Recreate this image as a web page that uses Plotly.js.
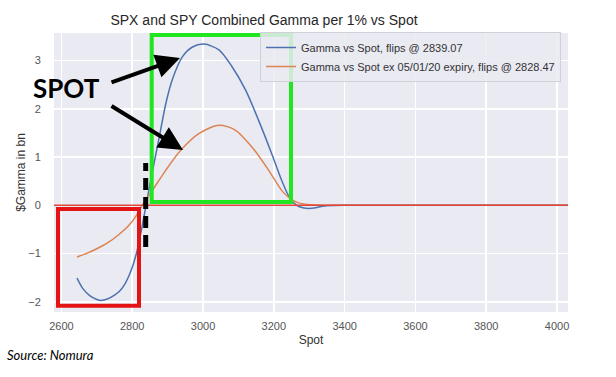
<!DOCTYPE html>
<html>
<head>
<meta charset="utf-8">
<script src="https://cdn.plot.ly/plotly-3.0.1.min.js"></script>
<style>html,body{margin:0;padding:0;background:#fff;}#chart{width:616px;height:377px;}</style>
</head>
<body>
<div id="chart"></div>
<script>
// Data
const spotBlue = [2644,2660,2680,2700,2712,2730,2750,2764,2780,2792,2802,2811,2825,2839,2857,2876,2895,2914,2942,2970,3003,3045,3082,3120,3157,3194,3222,3246,3265,3282,3300,3318,3338,3365,3400,3600,3800,4030];
const gammaBlue = [-1.51,-1.72,-1.87,-1.95,-1.97,-1.94,-1.86,-1.78,-1.62,-1.44,-1.24,-1.02,-0.55,0.00,0.70,1.40,2.11,2.62,3.08,3.28,3.34,3.22,2.87,2.39,1.76,1.07,0.52,0.14,0.00,-0.05,-0.065,-0.05,-0.02,-0.005,0,0,0,0];

const spotOrange = [2644,2670,2700,2730,2760,2790,2811,2828,2857,2895,2937,2989,3045,3091,3138,3185,3222,3246,3270,3297,3330,3400,3600,3800,4030];
const gammaOrange = [-1.07,-1.00,-0.90,-0.78,-0.62,-0.42,-0.22,0.00,0.31,0.73,1.14,1.49,1.66,1.56,1.21,0.73,0.31,0.14,0.05,0.015,0.003,0,0,0,0];

const seriesNames = ["Gamma vs Spot, flips @ 2839.07", "Gamma vs Spot ex 05/01/20 expiry, flips @ 2828.47"];
const xTicks = [2600,2800,3000,3200,3400,3600,3800,4000];
const yTicks = [-2,-1,0,1,2,3];
const yTickText = ['\u22122','\u22121','0','1','2','3'];

const traces = [
  {x: spotBlue, y: gammaBlue, name: seriesNames[0], type: 'scatter', mode: 'lines',
   line: {color: '#4C72B0', width: 1.5, shape: 'spline', smoothing: 0.8}},
  {x: spotOrange, y: gammaOrange, name: seriesNames[1], type: 'scatter', mode: 'lines',
   line: {color: '#DD8452', width: 1.5, shape: 'spline', smoothing: 0.8}}
];

const px = v => (v - 54) / 514;
const py = v => (312 - v) / 279;

const layout = {
  width: 616, height: 377,
  margin: {l: 54, r: 48, t: 33, b: 65, pad: 0},
  paper_bgcolor: '#ffffff',
  plot_bgcolor: '#EAEAF2',
  font: {family: 'Liberation Sans, Arial, sans-serif', color: '#444'},
  title: {text: 'SPX and SPY Combined Gamma per 1% vs Spot', font: {size: 14, color: '#262626'},
          xref: 'container', x: 264/616, xanchor: 'center', yref: 'container', y: 1 - 20.5/377, yanchor: 'middle'},
  xaxis: {range: [2579, 4031], tickvals: xTicks, showgrid: true, gridcolor: '#ffffff', gridwidth: 1.5,
          zeroline: false, showline: false, ticks: 'outside', ticklen: 4, tickcolor: 'rgba(0,0,0,0)',
          tickfont: {size: 11, color: '#555'},
          title: {text: 'Spot', font: {size: 12, color: '#333'}, standoff: 4}},
  yaxis: {range: [-2.21, 3.57], tickvals: yTicks, ticktext: yTickText, showgrid: true, gridcolor: '#ffffff', gridwidth: 1.5,
          zeroline: false, showline: false, ticks: 'outside', ticklen: 10, tickcolor: 'rgba(0,0,0,0)',
          tickfont: {size: 11, color: '#555'},
          title: {text: '$Gamma in bn', font: {size: 12, color: '#333'}, standoff: 0}},
  showlegend: true,
  legend: {x: px(260), y: py(32), xanchor: 'left', yanchor: 'top', bgcolor: 'rgba(234,234,242,0.85)',
           bordercolor: '#d0d0d8', borderwidth: 1, font: {size: 11, color: '#333'}, tracegroupgap: 0},
  shapes: [
    {type: 'line', xref: 'paper', x0: 0, x1: 1, yref: 'y', y0: 0, y1: 0, line: {color: '#e0463c', width: 1.6}},
    {type: 'rect', xref: 'paper', yref: 'paper', x0: px(151.7), x1: px(291), y0: py(202), y1: py(35),
     line: {color: '#1fe61f', width: 4}},
    {type: 'rect', xref: 'paper', yref: 'paper', x0: px(58), x1: px(139), y0: py(305.7), y1: py(209),
     line: {color: '#e41414', width: 4}},
    {type: 'line', xref: 'paper', yref: 'paper', x0: px(145.7), x1: px(145.7), y0: py(247), y1: py(163),
     line: {color: '#000000', width: 5, dash: '12px,7px'}}
  ],
  annotations: [
    {text: '<b>SPOT</b>', xref: 'paper', yref: 'paper', x: px(66), y: py(88), xanchor: 'center', yanchor: 'middle',
     showarrow: false, font: {family: 'Lato, Open Sans, sans-serif', size: 26, color: '#000'}},
    {text: '', xref: 'paper', yref: 'paper', x: px(180), y: py(58), ax: -70, ay: 25,
     showarrow: true, arrowhead: 2, arrowsize: 1.2, arrowwidth: 4, arrowcolor: '#000'},
    {text: '', xref: 'paper', yref: 'paper', x: px(183), y: py(150), ax: -73, ay: -45,
     showarrow: true, arrowhead: 2, arrowsize: 1.2, arrowwidth: 4, arrowcolor: '#000'},
    {text: '<i>Source: Nomura</i>', xref: 'paper', yref: 'paper', x: px(5), y: py(355), xanchor: 'left', yanchor: 'middle',
     showarrow: false, font: {family: 'Lato, Open Sans, sans-serif', size: 13, color: '#000'}}
  ]
};

Plotly.newPlot('chart', traces, layout, {displayModeBar: false, staticPlot: true});
</script>
</body>
</html>
